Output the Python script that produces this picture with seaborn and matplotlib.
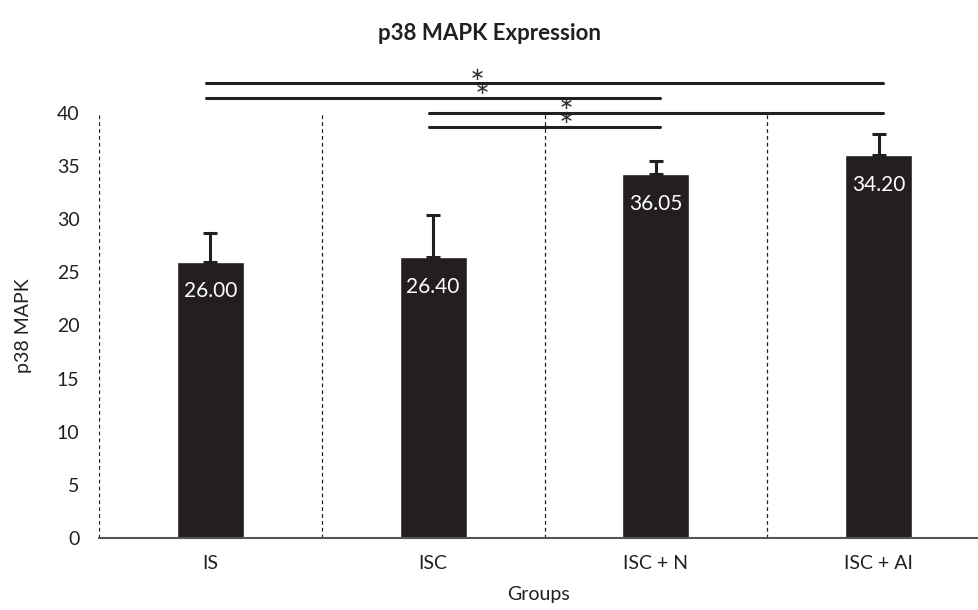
import numpy as np
import pandas as pd
import matplotlib
matplotlib.use("Agg")
import matplotlib.pyplot as plt
import seaborn as sns

# Daten
groups = ["IS", "ISC", "ISC + N", "ISC + AI"]
means = [26.00, 26.40, 34.20, 36.05]
errors = [2.65, 4.0, 1.3, 1.95]
bar_labels = ["26.00", "26.40", "36.05", "34.20"]

# significance brackets: (start group, end group, y level, star x)
sig_start = [0, 0, 1, 1]
sig_end = [3, 2, 3, 2]
sig_level = [42.8, 41.4, 40.0, 38.7]
sig_star_x = [1.20, 1.22, 1.60, 1.60]

DARK = "#231f20"


def main():
    sns.set_theme(style="white")
    plt.rcParams["font.family"] = ["Lato", "DejaVu Sans"]

    df = pd.DataFrame({"group": groups, "value": means})

    fig = plt.figure(figsize=(9.79, 6.10), dpi=100)
    ax = fig.add_axes([0.101, 0.118, 0.899, 0.697])

    sns.barplot(x="group", y="value", data=df, color=DARK, width=0.3,
                saturation=1, errorbar=None, ax=ax)

    # nur obere Fehlerbalken
    xs = np.arange(len(groups))
    ax.errorbar(xs, means, yerr=[np.zeros(len(errors)), errors], fmt="none",
                ecolor=DARK, elinewidth=2.2, capsize=5, capthick=2.2, zorder=3)

    for x, m, lab in zip(xs, means, bar_labels):
        ax.text(x, m - 2.8, lab, color="white", ha="center", va="center",
                fontsize=15)

    # gestrichelte Trennlinien
    for b in np.arange(-0.5, len(groups) - 0.5, 1.0):
        ax.plot([b, b], [0, 40], color=DARK, lw=0.9, ls=(0, (3, 2.5)),
                zorder=1)

    # Signifikanzlinien
    for s, e, lvl, sx in zip(sig_start, sig_end, sig_level, sig_star_x):
        ax.plot([s - 0.02, e + 0.02], [lvl, lvl], color=DARK, lw=2.2,
                clip_on=False, zorder=4)
        ax.text(sx, lvl + 0.8, "\u2217", ha="center", va="center",
                fontsize=13, color="#333333", family="DejaVu Sans",
                clip_on=False)

    ax.set_xlim(-0.5, 3.45)
    ax.set_ylim(0, 40)
    ax.set_yticks(range(0, 41, 5))
    ax.tick_params(axis="both", length=0, labelsize=14, colors=DARK, pad=12)
    ax.tick_params(axis="y", pad=14)

    for side in ["top", "right", "left"]:
        ax.spines[side].set_visible(False)
    ax.spines["bottom"].set_color("#555555")
    ax.spines["bottom"].set_linewidth(1.5)

    ax.set_xlabel("Groups", fontsize=14, color=DARK, labelpad=10)
    ax.set_ylabel("p38 MAPK", fontsize=14, color=DARK, labelpad=18)
    fig.text(0.5, 0.945, "p38 MAPK Expression", ha="center", va="center",
             fontsize=16, fontweight="bold", color=DARK)

    fig.savefig("out.png", dpi=100)


if __name__ == "__main__":
    main()
